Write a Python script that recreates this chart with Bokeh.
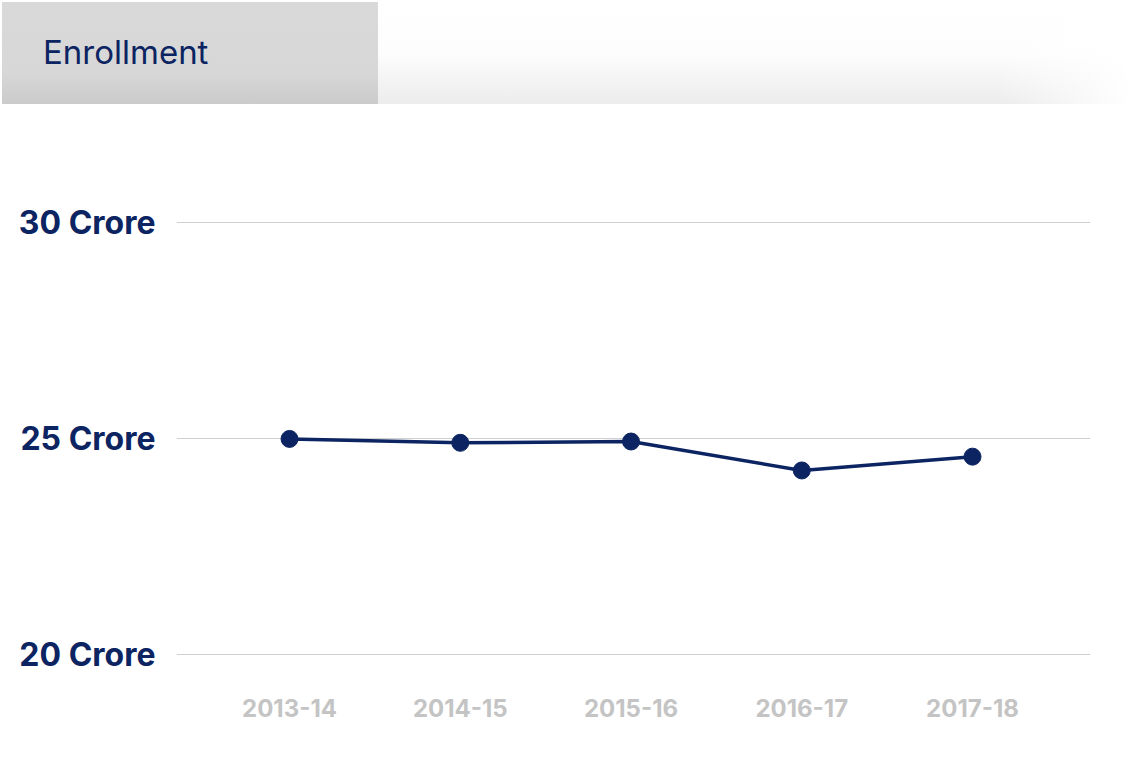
from bokeh.plotting import figure
from bokeh.models import Div, FixedTicker, Range1d
from bokeh.layouts import column
from bokeh.embed import file_html
from bokeh.resources import INLINE

# ---- data ----
years = ["2013-14", "2014-15", "2015-16", "2016-17", "2017-18"]
enrollment_crore = [24.99, 24.90, 24.93, 24.26, 24.58]
y_ticks = [20, 25, 30]
y_tick_labels = ["20 Crore", "25 Crore", "30 Crore"]
title_text = "Enrollment"

NAVY = "#0c2461"
FONT = "Inter"

header_html = f"""<div style="position:relative;width:1132px;height:104px;font-family:'{FONT}';">
<div style="position:absolute;left:2px;top:2px;width:376px;height:102px;background:linear-gradient(to bottom,#d9d9d9 0%,#d7d7d7 70%,#cbcbcb 100%);"></div>
<div style="position:absolute;left:378px;top:2px;width:754px;height:102px;background:linear-gradient(to right,rgba(255,255,255,0) 82%,#ffffff 100%),linear-gradient(to bottom,#ffffff 0%,#fdfdfd 50%,#ececec 100%);"></div>
<div style="position:absolute;left:43px;top:32px;font-size:33px;line-height:40px;color:{NAVY};white-space:nowrap;">{title_text}</div>
</div>"""

header = Div(text=header_html, width=1132, height=104, margin=0)

xs = list(range(len(years)))

p = figure(width=1132, height=664, output_backend="svg", toolbar_location=None,
           x_range=Range1d(-0.662, 4.691), y_range=Range1d(19.537, 31.25),
           min_border_left=176, min_border_right=42, min_border_top=64, min_border_bottom=94,
           margin=0)
p.outline_line_color = None
p.background_fill_color = "white"
p.border_fill_color = "white"

p.line(xs, enrollment_crore, line_color=NAVY, line_width=3.5)
p.scatter(xs, enrollment_crore, size=17, fill_color=NAVY, line_color=NAVY)

p.xgrid.grid_line_color = None
p.ygrid.grid_line_color = "#d0d0d0"
p.ygrid.grid_line_width = 1

p.yaxis.ticker = FixedTicker(ticks=y_ticks)
p.yaxis.major_label_overrides = {t: l for t, l in zip(y_ticks, y_tick_labels)}
p.yaxis.axis_line_color = None
p.yaxis.major_tick_line_color = None
p.yaxis.minor_tick_line_color = None
p.yaxis.major_tick_out = 0
p.yaxis.major_label_standoff = 21
p.yaxis.major_label_text_font = FONT
p.yaxis.major_label_text_font_style = "bold"
p.yaxis.major_label_text_font_size = "32px"
p.yaxis.major_label_text_color = NAVY

p.xaxis.ticker = FixedTicker(ticks=xs)
p.xaxis.major_label_overrides = {i: y for i, y in zip(xs, years)}
p.xaxis.axis_line_color = None
p.xaxis.major_tick_line_color = None
p.xaxis.minor_tick_line_color = None
p.xaxis.major_tick_out = 0
p.xaxis.major_label_standoff = 24
p.xaxis.major_label_text_font = FONT
p.xaxis.major_label_text_font_style = "bold"
p.xaxis.major_label_text_font_size = "24px"
p.xaxis.major_label_text_color = "#c4c4c4"

layout = column(header, p, spacing=0, margin=0)

open("out.html", "w").write(file_html(layout, INLINE))
